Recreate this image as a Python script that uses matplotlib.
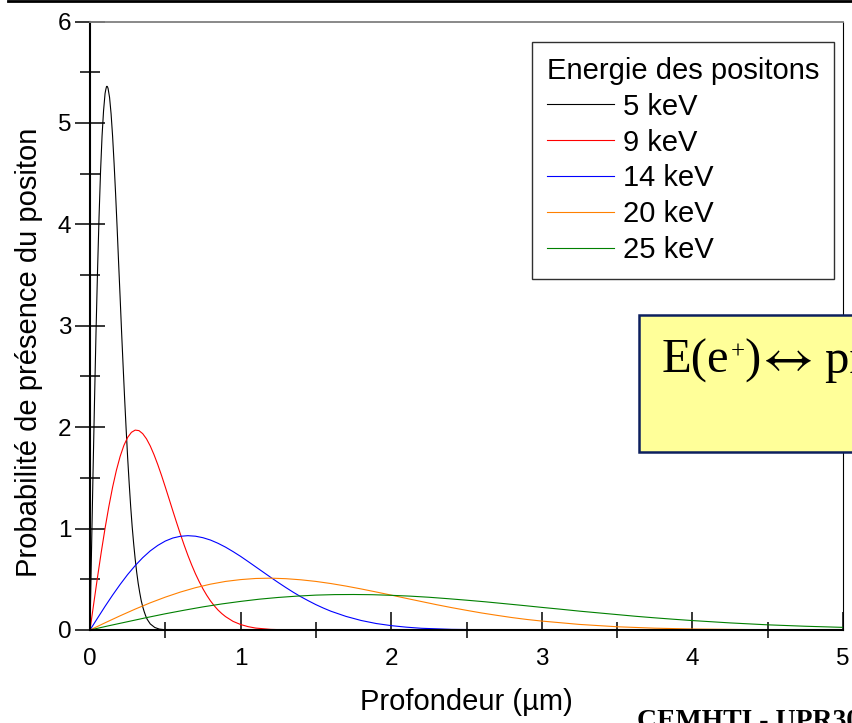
import matplotlib
matplotlib.use("Agg")
import matplotlib.pyplot as plt
from matplotlib.patches import Rectangle
from matplotlib.lines import Line2D
from matplotlib.ticker import MultipleLocator

plt.rcParams['font.family'] = ['Liberation Sans', 'DejaVu Sans']
plt.rcParams['mathtext.fontset'] = 'stix'

# profils d'implantation (profondeur en um)
depth_5 = [0, 0.01, 0.02, 0.03, 0.04, 0.05, 0.06, 0.07, 0.08, 0.09, 0.10, 0.105,
           0.11, 0.115, 0.12, 0.13, 0.14, 0.15, 0.16, 0.17, 0.18, 0.19, 0.20,
           0.21, 0.22, 0.23, 0.24, 0.25, 0.26, 0.27, 0.28, 0.29, 0.30, 0.31,
           0.32, 0.33, 0.34, 0.35, 0.36, 0.37, 0.38, 0.40, 0.43, 0.46, 0.50, 5.0]
prob_5 = [0, 0.78, 1.54, 2.26, 2.94, 3.54, 4.07, 4.52, 4.87, 5.12, 5.29, 5.33,
          5.36, 5.36, 5.34, 5.25, 5.09, 4.87, 4.60, 4.30, 3.97, 3.62, 3.28,
          2.93, 2.60, 2.28, 1.98, 1.70, 1.45, 1.22, 1.02, 0.85, 0.70, 0.57,
          0.46, 0.37, 0.29, 0.23, 0.18, 0.138, 0.105, 0.060, 0.025, 0.009,
          0.002, 0]

depth_9 = [0, 0.025, 0.05, 0.075, 0.10, 0.125, 0.15, 0.175, 0.20, 0.225, 0.25,
           0.275, 0.30, 0.325, 0.35, 0.375, 0.40, 0.425, 0.45, 0.475, 0.50,
           0.525, 0.55, 0.575, 0.60, 0.625, 0.65, 0.675, 0.70, 0.725, 0.75,
           0.775, 0.80, 0.825, 0.85, 0.875, 0.90, 0.95, 1.00, 1.05, 1.10, 1.20,
           1.30, 1.40, 5.0]
prob_9 = [0, 0.263, 0.522, 0.770, 1.003, 1.216, 1.408, 1.573, 1.711, 1.820,
          1.899, 1.949, 1.971, 1.966, 1.936, 1.885, 1.815, 1.729, 1.631, 1.524,
          1.410, 1.293, 1.175, 1.059, 0.946, 0.838, 0.736, 0.642, 0.555, 0.477,
          0.406, 0.343, 0.287, 0.239, 0.197, 0.162, 0.132, 0.085, 0.054, 0.033,
          0.019, 0.006, 0.0018, 0.0004, 0]

depth_14 = [0, 0.05, 0.1, 0.15, 0.2, 0.25, 0.3, 0.35, 0.4, 0.45, 0.5, 0.55, 0.6,
            0.65, 0.7, 0.75, 0.8, 0.85, 0.9, 0.95, 1.0, 1.05, 1.1, 1.15, 1.2,
            1.25, 1.3, 1.35, 1.4, 1.45, 1.5, 1.55, 1.6, 1.7, 1.8, 1.9, 2.0, 2.1,
            2.2, 2.4, 2.7, 3.0, 5.0]
prob_14 = [0, 0.117, 0.233, 0.344, 0.449, 0.547, 0.635, 0.713, 0.780, 0.834,
           0.877, 0.907, 0.924, 0.930, 0.925, 0.910, 0.887, 0.855, 0.817, 0.773,
           0.726, 0.675, 0.623, 0.571, 0.519, 0.468, 0.419, 0.372, 0.328, 0.288,
           0.250, 0.216, 0.185, 0.134, 0.094, 0.064, 0.043, 0.028, 0.017,
           0.0064, 0.0012, 0.0002, 0]

depth_20 = [0, 0.1, 0.2, 0.3, 0.4, 0.5, 0.6, 0.7, 0.8, 0.9, 1.0, 1.1, 1.2, 1.3,
            1.4, 1.5, 1.6, 1.7, 1.8, 1.9, 2.0, 2.1, 2.2, 2.3, 2.4, 2.5, 2.6, 2.7,
            2.8, 2.9, 3.0, 3.25, 3.5, 3.75, 4.0, 4.5, 5.0]
prob_20 = [0, 0.071, 0.140, 0.206, 0.268, 0.324, 0.374, 0.417, 0.452, 0.479,
           0.497, 0.508, 0.511, 0.506, 0.495, 0.479, 0.458, 0.433, 0.405, 0.375,
           0.344, 0.312, 0.281, 0.250, 0.221, 0.194, 0.168, 0.145, 0.123, 0.104,
           0.088, 0.055, 0.032, 0.018, 0.0098, 0.0024, 0.0005]

depth_25 = [0, 0.125, 0.25, 0.375, 0.5, 0.625, 0.75, 0.875, 1.0, 1.125, 1.25,
            1.375, 1.5, 1.625, 1.75, 1.875, 2.0, 2.125, 2.25, 2.375, 2.5, 2.625,
            2.75, 2.875, 3.0, 3.125, 3.25, 3.375, 3.5, 3.625, 3.75, 3.875, 4.0,
            4.25, 4.5, 4.75, 5.0]
prob_25 = [0, 0.042, 0.082, 0.122, 0.160, 0.195, 0.228, 0.257, 0.282, 0.304,
           0.321, 0.334, 0.344, 0.349, 0.350, 0.348, 0.342, 0.334, 0.323, 0.309,
           0.294, 0.278, 0.260, 0.242, 0.223, 0.205, 0.186, 0.169, 0.152, 0.135,
           0.120, 0.106, 0.093, 0.070, 0.051, 0.037, 0.026]

labels = ['5 keV', '9 keV', '14 keV', '20 keV', '25 keV']
colors = ['black', '#ff0000', '#0000ff', '#ff8000', '#008000']

W, H = 852, 723
fig = plt.figure(figsize=(W / 100, H / 100), dpi=100)
ax = fig.add_axes([90 / W, 93 / H, 753 / W, 608.5 / H])

series = [(depth_5, prob_5), (depth_9, prob_9), (depth_14, prob_14),
          (depth_20, prob_20), (depth_25, prob_25)]
for (x, y), lab, c in zip(series, labels, colors):
    ax.plot(x, y, color=c, lw=0.8, label=lab)

ax.set_xlim(0, 5)
ax.set_ylim(0, 6)
ax.xaxis.set_major_locator(MultipleLocator(1))
ax.xaxis.set_minor_locator(MultipleLocator(0.5))
ax.yaxis.set_major_locator(MultipleLocator(1))
ax.yaxis.set_minor_locator(MultipleLocator(0.5))

ax.tick_params(axis='x', which='major', direction='in', length=13, width=1.1,
               labelsize=17.5, pad=13, top=False)
ax.tick_params(axis='x', which='minor', direction='inout', length=12, width=1.1,
               top=False)
ax.tick_params(axis='y', which='major', direction='inout', length=21, width=1.1,
               labelsize=17.5, pad=3, right=False)
ax.tick_params(axis='y', which='minor', direction='inout', length=14, width=1.1,
               right=False)

ax.spines['left'].set_linewidth(1.5)
ax.spines['bottom'].set_linewidth(1.5)
ax.spines['top'].set_color('#808080')
ax.spines['top'].set_linewidth(1.3)
ax.spines['right'].set_linewidth(0.8)

ax.set_xlabel('Profondeur (µm)', fontsize=21)
ax.set_ylabel('Probabilité de présence du positon', fontsize=21)
ax.xaxis.set_label_coords(0.5, -0.095)
ax.yaxis.set_label_coords(-0.062, 0.457)

leg = ax.legend(title='Energie des positons', fontsize=21, title_fontsize=21,
                loc='upper right', bbox_to_anchor=(0.988, 0.966),
                borderaxespad=0, fancybox=False, edgecolor='#303030',
                framealpha=1, handlelength=2.3, handletextpad=0.3,
                labelspacing=0.27, borderpad=0.5, alignment='left')
leg.get_frame().set_linewidth(1.0)

# barre du haut de la diapositive
fig.add_artist(Line2D([8 / W, 1], [1 - 1.2 / H] * 2, color='black', lw=2,
                      transform=fig.transFigure))

# encadre jaune
box = Rectangle((639 / W, (H - 452) / H), 0.4, 137 / H,
                transform=fig.transFigure, facecolor='#ffff99',
                edgecolor='#0c1f5e', lw=1.8, zorder=5)
fig.add_artist(box)

renderer = fig.canvas.get_renderer()
serif = ['Liberation Serif', 'DejaVu Serif']


def put(x_px, s, size, raise_px=0):
    t = fig.text(x_px / W, (H - 373 + raise_px) / H, s, fontsize=size,
                 family=serif, va='baseline', zorder=6)
    return t.get_window_extent(renderer).x1


x = put(662, 'E(e', 35)
x = put(x + 1, '+', 18, raise_px=14)
x = put(x, ')', 35)
x = put(x + 1, r'$\!\leftrightarrow$', 38)
put(x + 1, ' pr', 35)

fig.text(637 / W, -4.5 / H, 'CEMHTI - UPR30', fontsize=20, weight='bold',
         family=serif, va='baseline')

fig.savefig('out.png', dpi=100)
